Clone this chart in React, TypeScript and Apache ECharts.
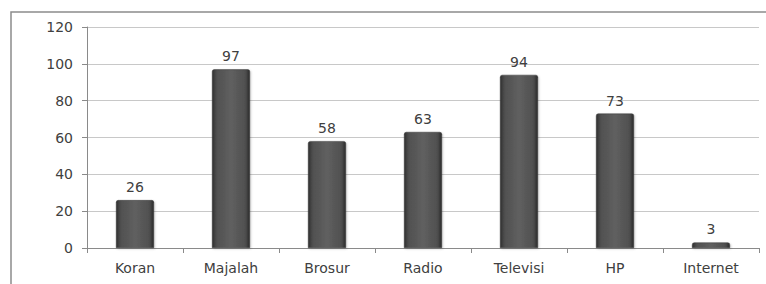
import React, { useEffect, useRef } from "react";
import * as echarts from "echarts";

const categories = ["Koran", "Majalah", "Brosur", "Radio", "Televisi", "HP", "Internet"];
const values = [26, 97, 58, 63, 94, 73, 3];
const yTicks = [0, 20, 40, 60, 80, 100, 120];

export default function App() {
  const ref = useRef<HTMLDivElement>(null);
  useEffect(() => {
    if (!ref.current) return;
    const chart = echarts.init(ref.current, null, { renderer: "svg" });
    const font = "DejaVu Sans";
    chart.setOption({
      animation: false,
      backgroundColor: "#ffffff",
      graphic: [
        {
          type: "rect",
          shape: { x: 11, y: 12, width: 780, height: 300 },
          style: { fill: "none", stroke: "#8c8c8c", lineWidth: 1.5 },
          silent: true,
        },
      ],
      grid: { left: 87, right: 7, top: 27, bottom: 36, containLabel: false },
      xAxis: {
        type: "category",
        data: categories,
        axisLine: { lineStyle: { color: "#8a8a8a", width: 1 } },
        axisTick: { show: true, length: 5, lineStyle: { color: "#8a8a8a" } },
        axisLabel: { color: "#404040", fontFamily: font, fontSize: 14, margin: 13 },
      },
      yAxis: {
        type: "value",
        min: yTicks[0],
        max: yTicks[yTicks.length - 1],
        interval: 20,
        axisLine: { show: true, lineStyle: { color: "#8a8a8a", width: 1 } },
        axisTick: { show: true, length: 5, lineStyle: { color: "#8a8a8a" } },
        axisLabel: { color: "#404040", fontFamily: font, fontSize: 14, margin: 14 },
        splitLine: { lineStyle: { color: "#c8c8c8", width: 1 } },
      },
      series: [
        {
          type: "bar",
          data: values,
          barWidth: 38,
          itemStyle: {
            color: new echarts.graphic.LinearGradient(0, 0, 1, 0, [
              { offset: 0, color: "#303030" },
              { offset: 0.12, color: "#505050" },
              { offset: 0.5, color: "#606060" },
              { offset: 0.88, color: "#505050" },
              { offset: 1, color: "#2c2c2c" },
            ]),
            borderColor: "#3a3a3a",
            borderWidth: 0.5,
            borderRadius: [2, 2, 0, 0],
            shadowColor: "rgba(0,0,0,0.2)",
            shadowBlur: 2,
            shadowOffsetX: 1,
            shadowOffsetY: 1,
          },
          label: {
            show: true,
            position: "top",
            distance: 6,
            color: "#404040",
            fontFamily: font,
            fontSize: 14,
          },
        },
      ],
    });
    return () => chart.dispose();
  }, []);
  return (
    <div
      ref={ref}
      style={{ position: "fixed", left: 0, top: 0, width: 766, height: 284 }}
    />
  );
}
